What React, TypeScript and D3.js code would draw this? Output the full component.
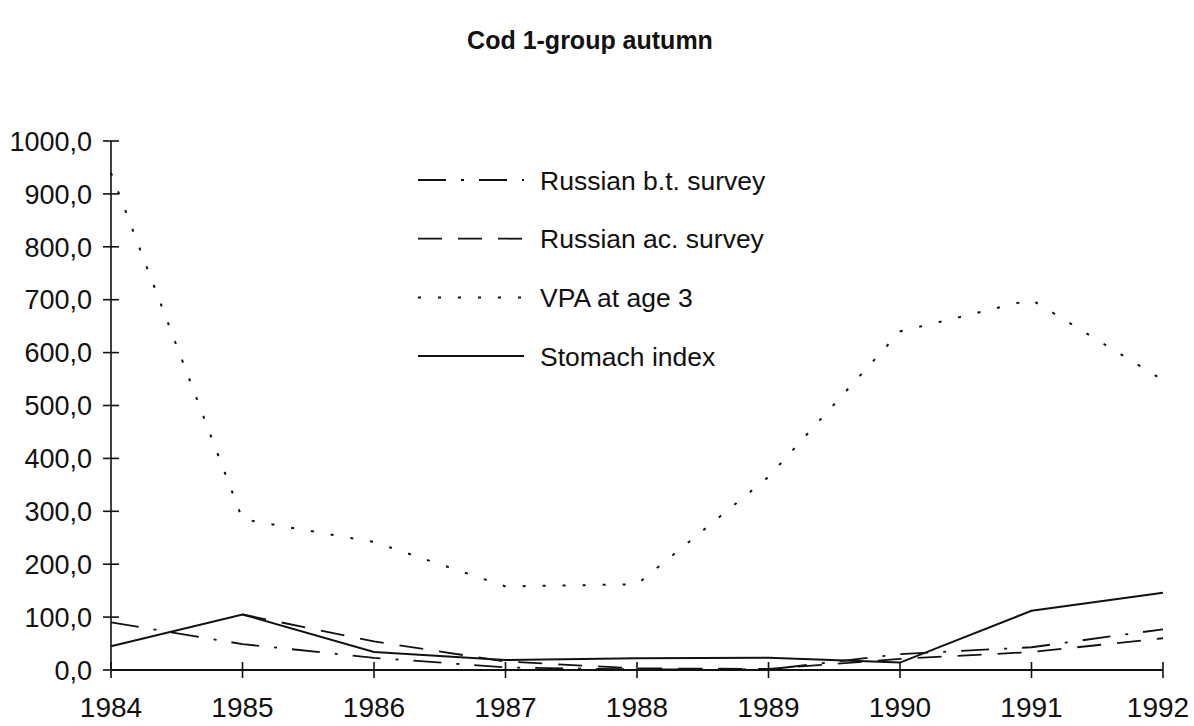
import * as d3 from "d3";

// Cod 1-group autumn
const years = [1984, 1985, 1986, 1987, 1988, 1989, 1990, 1991, 1992];

const russianBT = [90, 49, 23, 5, 1, 1, 30, 43, 77];
const russianAC = [null, 105, 54, 16, 3, 2, 21, 34, 60];
const vpaAge3 = [940, 285, 242, 158, 162, 365, 640, 700, 548];
const stomach = [45, 105, 34, 19, 22, 23, 14, 112, 146];

const yTicks = [0, 100, 200, 300, 400, 500, 600, 700, 800, 900, 1000];

const seriesNames = [
  "Russian b.t. survey",
  "Russian ac. survey",
  "VPA at age 3",
  "Stomach index",
];

const W = 1194;
const H = 726;
const font = "'Liberation Sans', Arial, sans-serif";

export default function App() {
  const x = d3.scaleLinear().domain([1984, 1992]).range([111, 1163]);
  const y = d3.scaleLinear().domain([0, 1000]).range([670, 141]);

  const fmt = (v: number) => d3.format(".1f")(v).replace(".", ",");

  const line = d3
    .line<number | null>()
    .defined((d) => d !== null)
    .x((_, i) => x(years[i]))
    .y((d) => y(d as number));

  const series = [
    { values: russianBT, dash: "28,15,3,15", width: 1.8 },
    { values: russianAC, dash: "24,16", width: 1.8 },
    { values: vpaAge3, dash: "3,17", width: 2 },
    { values: stomach, dash: "none", width: 2 },
  ];

  const tick = 8;

  return (
    <svg
      width={W}
      height={H}
      style={{ position: "absolute", left: 0, top: 0, background: "#fff" }}
      fontFamily={font}
    >
      <text
        x={590}
        y={49}
        textAnchor="middle"
        fontSize={25}
        fontWeight="bold"
        fill="#111"
      >
        Cod 1-group autumn
      </text>

      {/* y axis */}
      <line x1={x(1984)} x2={x(1984)} y1={y(1000)} y2={y(0)} stroke="#111" strokeWidth={1.6} />
      {yTicks.map((t) => (
        <g key={t}>
          <line
            x1={x(1984) - tick}
            x2={x(1984) + tick}
            y1={y(t)}
            y2={y(t)}
            stroke="#111"
            strokeWidth={1.6}
          />
          <text
            x={92}
            y={y(t)}
            dy="0.36em"
            textAnchor="end"
            fontSize={27}
            fill="#111"
          >
            {fmt(t)}
          </text>
        </g>
      ))}

      {/* x axis */}
      <line x1={x(1984)} x2={x(1992)} y1={y(0)} y2={y(0)} stroke="#111" strokeWidth={2} />
      {years.map((yr) => (
        <g key={yr}>
          <line
            x1={x(yr)}
            x2={x(yr)}
            y1={y(0) - tick}
            y2={y(0) + tick}
            stroke="#111"
            strokeWidth={1.6}
          />
          <text
            x={Math.min(x(yr), W - 36)}
            y={717}
            textAnchor="middle"
            fontSize={28}
            fill="#111"
          >
            {yr}
          </text>
        </g>
      ))}

      {/* series */}
      {series.map((s, i) => (
        <path
          key={i}
          d={line(s.values) || ""}
          fill="none"
          stroke="#111"
          strokeWidth={s.width}
          strokeDasharray={s.dash}
        />
      ))}

      {/* legend */}
      {seriesNames.map((name, i) => {
        const ly = 180 + i * 58.7;
        return (
          <g key={name}>
            <line
              x1={418}
              x2={524}
              y1={ly}
              y2={ly}
              stroke="#111"
              strokeWidth={series[i].width}
              strokeDasharray={series[i].dash}
            />
            <text x={540} y={ly} dy="0.36em" fontSize={26.5} fill="#111">
              {name}
            </text>
          </g>
        );
      })}
    </svg>
  );
}
